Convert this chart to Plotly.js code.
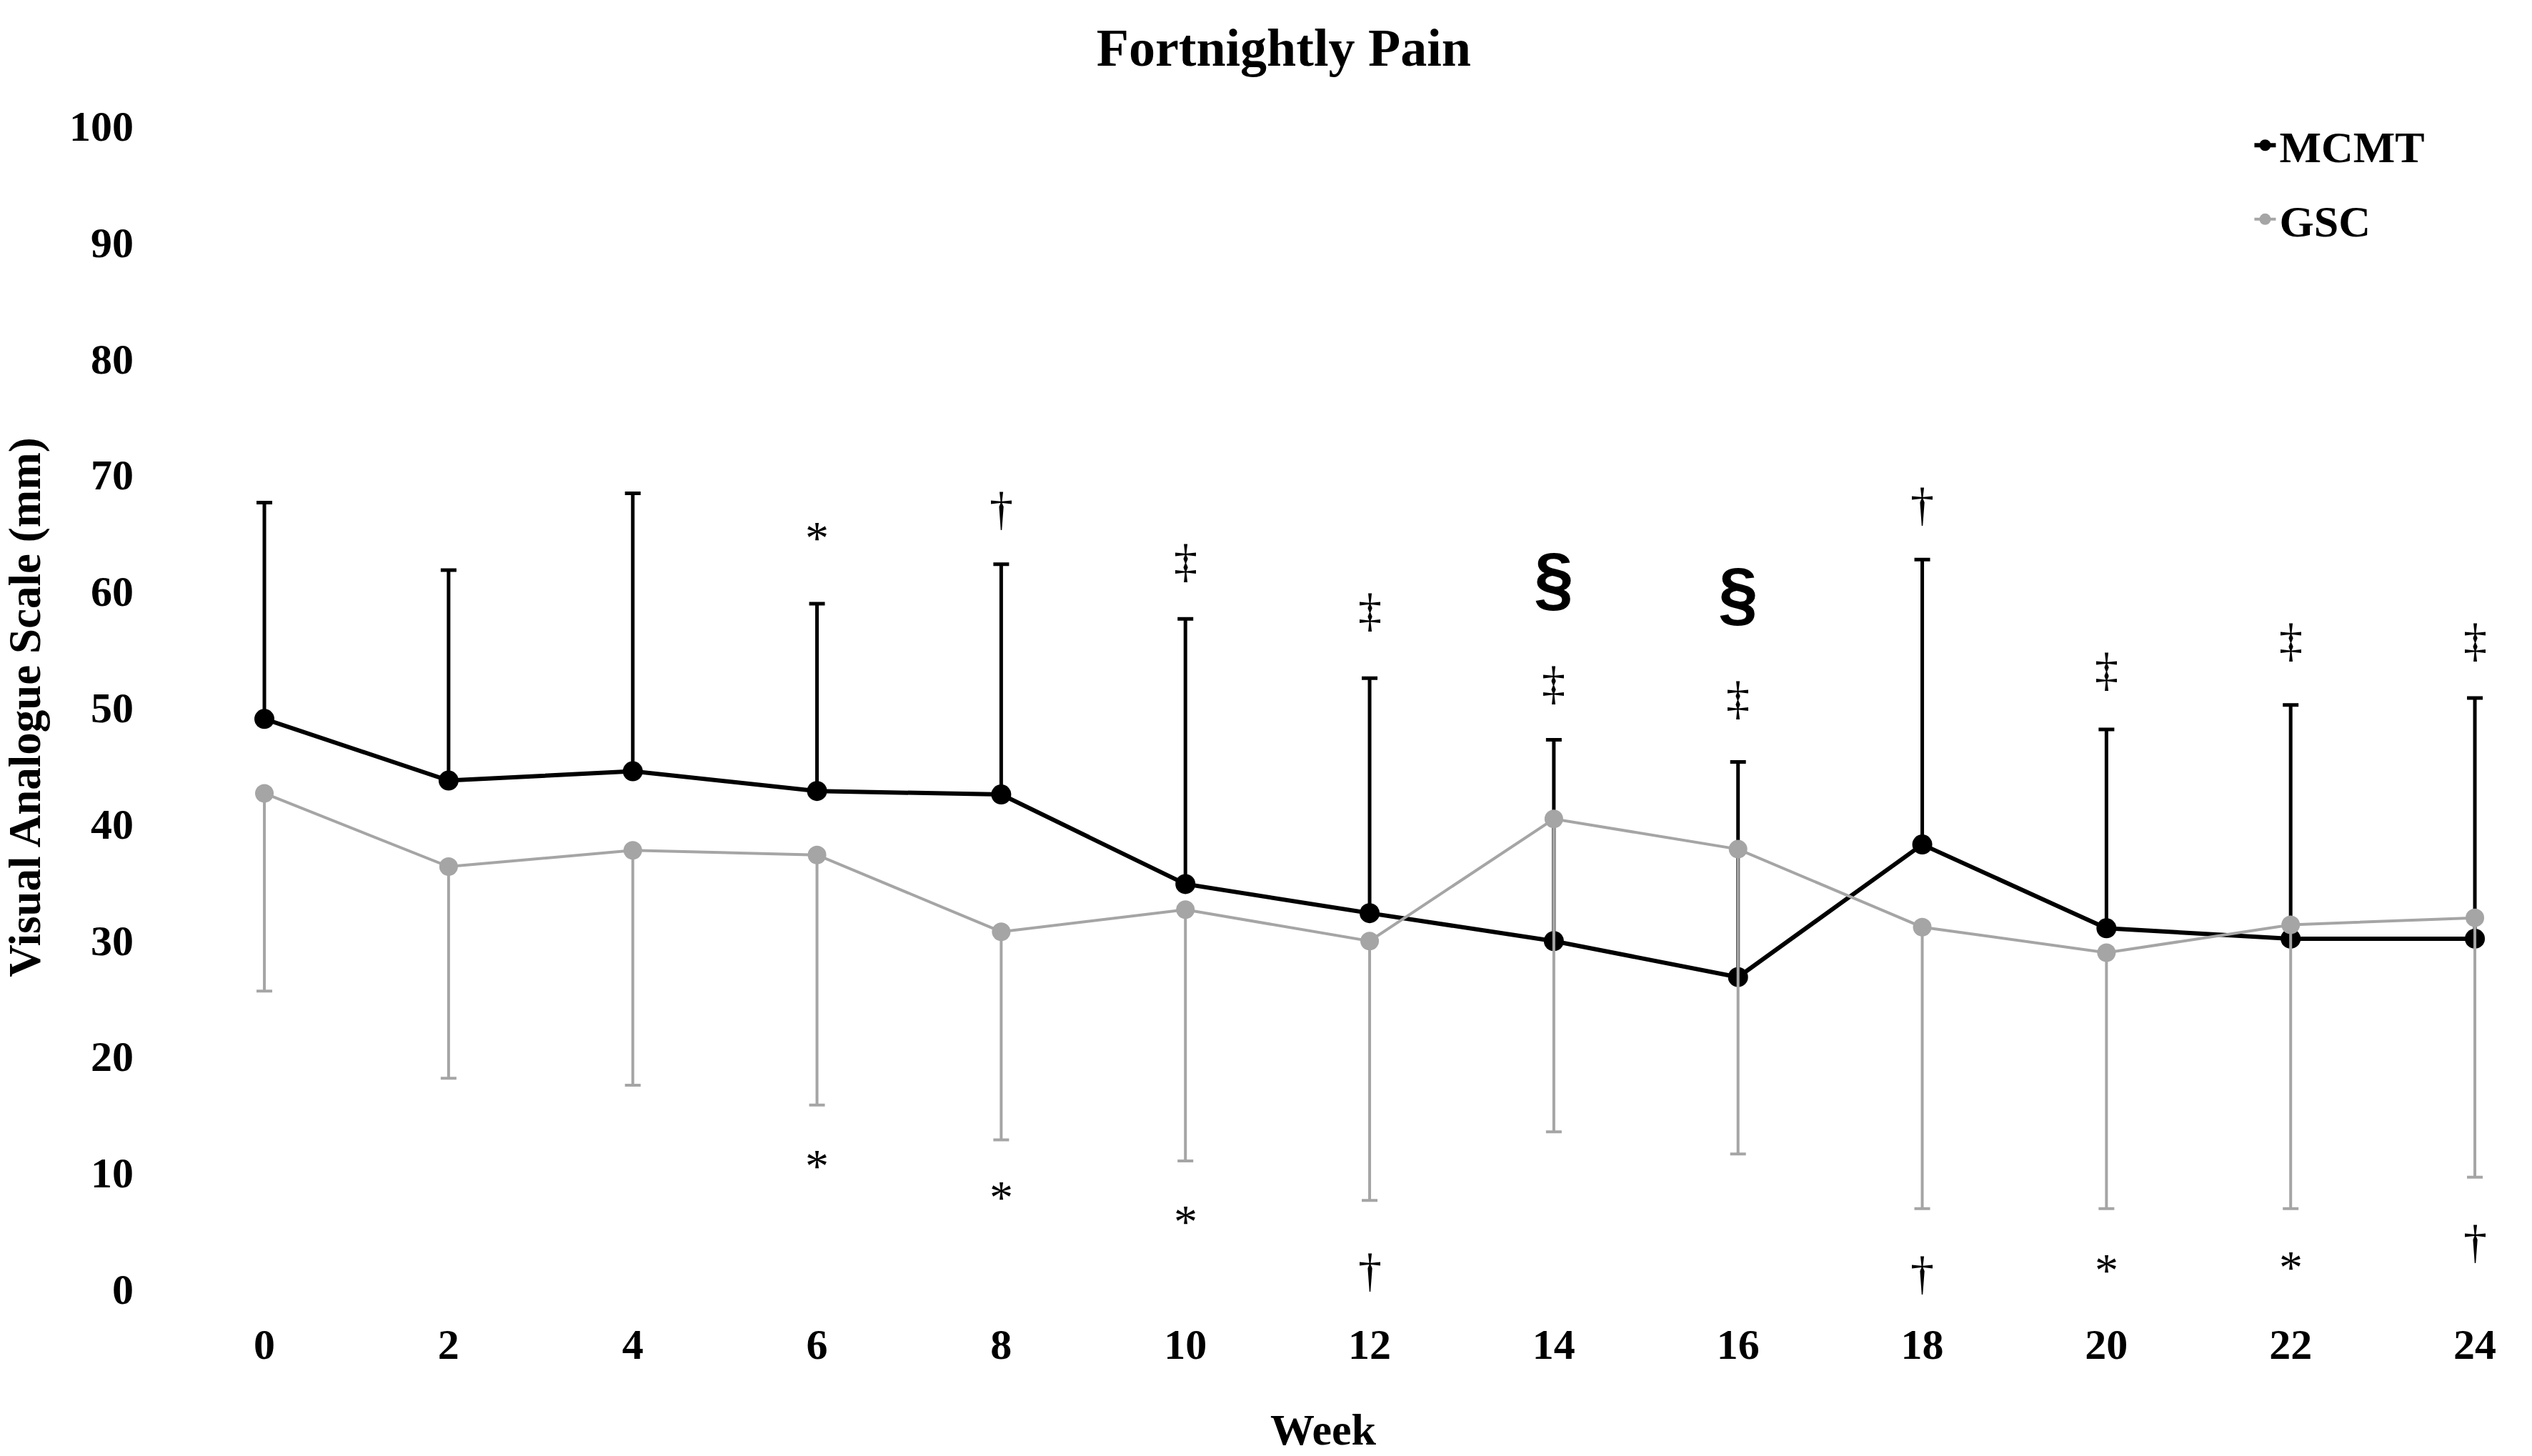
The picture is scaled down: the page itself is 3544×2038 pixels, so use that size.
<!DOCTYPE html>
<html>
<head>
<meta charset="utf-8">
<script src="https://cdn.plot.ly/plotly-3.0.1.min.js"></script>
<style>html,body{margin:0;padding:0;background:#fff;}#chart{width:3544px;height:2038px;}</style>
</head>
<body>
<div id="chart"></div>
<script>
// ---- data ----
const weeks = [0, 2, 4, 6, 8, 10, 12, 14, 16, 18, 20, 22, 24];
const mcmtMean  = [49.0, 43.7, 44.5, 42.8, 42.5, 34.8, 32.3, 29.9, 26.8, 38.2, 31.0, 30.1, 30.1];
const mcmtUpper = [67.6, 61.8, 68.4, 58.9, 62.3, 57.6, 52.5, 47.2, 45.3, 62.7, 48.1, 50.2, 50.8];
const gscMean   = [42.6, 36.3, 37.7, 37.3, 30.7, 32.6, 29.9, 40.4, 37.8, 31.1, 28.9, 31.3, 31.9];
const gscLower  = [25.6, 18.1, 17.5, 15.8, 12.8, 11.0, 7.6, 13.5, 11.6, 6.9, 6.9, 6.9, 9.6];

const aboveWeeks   = [6, 8, 10, 12, 14, 14, 16, 16, 18, 20, 22, 24];
const aboveSymbols = ['*', '†', '‡', '‡', '§', '‡', '§', '‡', '†', '‡', '‡', '‡'];
const aboveY       = [64.6, 67.1, 62.6, 58.4, 61.1, 52.1, 59.8, 50.8, 67.5, 53.3, 55.8, 55.8];
const belowWeeks   = [6, 8, 10, 12, 18, 20, 22, 24];
const belowSymbols = ['*', '*', '*', '†', '†', '*', '*', '†'];
const belowY       = [10.6, 7.9, 5.8, 1.6, 1.4, 1.6, 1.9, 4.1];

const yTicks = [0, 10, 20, 30, 40, 50, 60, 70, 80, 90, 100];

// ---- styles ----
const serif = 'Liberation Serif, Times New Roman, serif';
const black = '#000000';
const grey = '#A5A5A5';

const mcmtPlus = mcmtUpper.map((u, i) => +(u - mcmtMean[i]).toFixed(2));
const gscMinus = gscMean.map((m, i) => +(m - gscLower[i]).toFixed(2));
const zeros = weeks.map(() => 0);

const traces = [
  {
    x: weeks, y: mcmtMean, name: 'MCMT', type: 'scatter', mode: 'lines+markers',
    legendgroup: 'a',
    line: {color: black, width: 6},
    marker: {color: black, size: 28},
    error_y: {type: 'data', symmetric: false, array: mcmtPlus, arrayminus: zeros,
              color: black, thickness: 5, width: 11}
  },
  {
    x: weeks, y: gscMean, name: 'GSC', type: 'scatter', mode: 'lines+markers',
    legendgroup: 'b',
    line: {color: grey, width: 4},
    marker: {color: grey, size: 26},
    error_y: {type: 'data', symmetric: false, array: zeros, arrayminus: gscMinus,
              color: grey, thickness: 4, width: 11}
  }
];

function symFont(s) {
  if (s === '§') return {family: 'Liberation Sans, Arial, sans-serif', size: 100, color: black, weight: 'bold'};
  return {family: serif, size: 66, color: black};
}

const annotations = [];
aboveWeeks.forEach((w, i) => annotations.push({
  x: w, y: aboveY[i], xref: 'x', yref: 'y', text: aboveSymbols[i], showarrow: false,
  xanchor: 'center', yanchor: 'middle', font: symFont(aboveSymbols[i])
}));
belowWeeks.forEach((w, i) => annotations.push({
  x: w, y: belowY[i], xref: 'x', yref: 'y', text: belowSymbols[i], showarrow: false,
  xanchor: 'center', yanchor: 'middle', font: symFont(belowSymbols[i])
}));

const layout = {
  width: 3544, height: 2038,
  paper_bgcolor: '#ffffff', plot_bgcolor: '#ffffff',
  margin: {l: 200, r: 40, t: 176, b: 234},
  font: {family: serif, color: black},
  title: {
    text: '<b>Fortnightly Pain</b>', xref: 'container', yref: 'container',
    x: 0.507, y: 1 - 66 / 2038, xanchor: 'center', yanchor: 'middle',
    font: {family: serif, size: 74, color: black}
  },
  xaxis: {
    range: [-1.319, 24.31], tickmode: 'array', tickvals: weeks, ticktext: weeks.map(String),
    showgrid: false, zeroline: false, showline: false, ticks: '',
    ticklabelstandoff: 37,
    tickfont: {family: serif, size: 60, color: black, weight: 'bold'},
    title: {text: '<b>Week</b>', standoff: 64, font: {family: serif, size: 62, color: black}}
  },
  yaxis: {
    range: [0, 100], tickmode: 'array', tickvals: yTicks, ticktext: yTicks.map(String),
    showgrid: false, zeroline: false, showline: false, ticks: '',
    ticklabelstandoff: 12,
    tickfont: {family: serif, size: 60, color: black, weight: 'bold'},
    title: {text: '<b>Visual Analogue Scale (mm)</b>', standoff: 20, font: {family: serif, size: 63, color: black}}
  },
  showlegend: true,
  legend: {
    x: 0.893, y: 1.012, xanchor: 'left', yanchor: 'top',
    font: {family: serif, size: 62, color: black, weight: 'bold'},
    tracegroupgap: 20, bgcolor: 'rgba(0,0,0,0)'
  },
  annotations: annotations
};

Plotly.newPlot('chart', traces, layout, {displayModeBar: false, staticPlot: true});
</script>
</body>
</html>
